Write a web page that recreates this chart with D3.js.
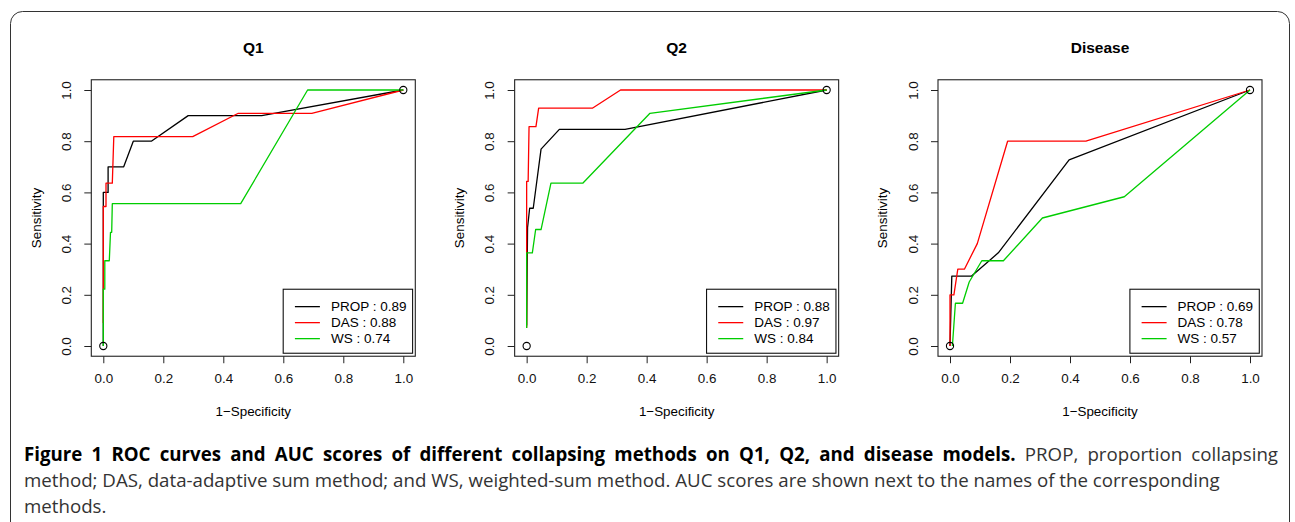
<!DOCTYPE html>
<html>
<head>
<meta charset="utf-8">
<script src="https://cdn.jsdelivr.net/npm/d3@7"></script>
<style>
  body { margin: 0; background: #fff; }
  #wrap { position: relative; width: 1295px; height: 522px; overflow: hidden; }
  svg { position: absolute; left: 0; top: 0; }
  .cap { position: absolute; left: 24px; width: 1254px; font-family: "Open Sans", sans-serif; font-size: 18.7px; color: #333; white-space: nowrap; }
  .cap.just { text-align: justify; text-align-last: justify; }
  .cap b { color: #000; }
</style>
</head>
<body>
<div id="wrap">
  <svg id="chart" width="1295" height="522"></svg>
</div>
<script>
  // panels, methods and AUC scores
  const panels = ["Q1", "Q2", "Disease"];
  const methods = ["PROP", "DAS", "WS"];
  const colors = ["#000000", "#ff0000", "#00cd00"];
  const aucQ1 = [0.89, 0.88, 0.74];
  const aucQ2 = [0.88, 0.97, 0.84];
  const aucDisease = [0.69, 0.78, 0.57];

  // ROC curves as [1-specificity, sensitivity]
  const q1Prop = [[0,0],[0,0.6],[0.016,0.6],[0.016,0.7],[0.068,0.7],[0.1,0.8],[0.16,0.8],[0.283,0.9],[0.528,0.9],[1,1]];
  const q1Das = [[0,0.09],[0,0.545],[0.009,0.545],[0.009,0.636],[0.03,0.636],[0.035,0.818],[0.298,0.818],[0.45,0.909],[0.695,0.909],[1,1]];
  const q1Ws = [[0,0],[0,0.222],[0.005,0.222],[0.005,0.333],[0.02,0.333],[0.024,0.444],[0.028,0.444],[0.03,0.556],[0.458,0.556],[0.681,1],[1,1]];

  const q2Prop = [[0,0.08],[0.003,0.462],[0.01,0.538],[0.022,0.538],[0.048,0.769],[0.109,0.846],[0.328,0.846],[1,1]];
  const q2Das = [[0,0.071],[0,0.643],[0.005,0.643],[0.008,0.857],[0.031,0.857],[0.04,0.929],[0.219,0.929],[0.313,1],[1,1]];
  const q2Ws = [[0,0.07],[0,0.364],[0.019,0.364],[0.03,0.455],[0.048,0.455],[0.081,0.636],[0.187,0.636],[0.411,0.909],[1,1]];

  const dProp = [[0,0],[0.006,0.273],[0.072,0.273],[0.161,0.364],[0.397,0.727],[1,1]];
  const dDas = [[0,0],[0,0.2],[0.013,0.2],[0.026,0.3],[0.048,0.3],[0.091,0.4],[0.192,0.8],[0.453,0.8],[1,1]];
  const dWs = [[0.008,0],[0.018,0.167],[0.042,0.167],[0.064,0.25],[0.106,0.333],[0.178,0.333],[0.308,0.5],[0.581,0.583],[1,1]];

  // end points marked with open circles
  const markers = [[0,0],[1,1]];

  const ticks = [0, 0.2, 0.4, 0.6, 0.8, 1.0];

  const curves = [[q1Prop, q1Das, q1Ws], [q2Prop, q2Das, q2Ws], [dProp, dDas, dWs]];
  const aucs = [aucQ1, aucQ2, aucDisease];

  const captionLines = [
    ["Figure 1 ROC curves and AUC scores of different collapsing methods on Q1, Q2, and disease models.", " PROP, proportion collapsing"],
    ["", "method; DAS, data-adaptive sum method; and WS, weighted-sum method. AUC scores are shown next to the names of the corresponding"],
    ["", "methods."]
  ];

  const svg = d3.select("#chart");
  const font = "'Liberation Sans', Arial, sans-serif";

  // outer frame
  svg.append("rect")
    .attr("x", 10.5).attr("y", 11.5)
    .attr("width", 1279).attr("height", 540)
    .attr("rx", 12).attr("ry", 12)
    .attr("fill", "none")
    .attr("stroke", "#333")
    .attr("stroke-width", 1);

  const panelStep = 423.35;
  const plotW = 300, plotH = 256;

  panels.forEach((name, i) => {
    const x0 = 103.3 + i * panelStep;
    const y0 = 90;
    const x = d3.scaleLinear().domain([-0.04, 1.04]).range([x0 - 0.04 * plotW, x0 + 1.04 * plotW]);
    const y = d3.scaleLinear().domain([-0.04, 1.04]).range([y0 + 1.04 * plotH, y0 - 0.04 * plotH]);

    const g = svg.append("g");

    // x axis
    const xAxis = d3.axisBottom(x).tickValues(ticks).tickFormat(d3.format(".1f")).tickSize(7).tickPadding(10);
    const gx = g.append("g")
      .attr("transform", `translate(0,${y(-0.04)})`)
      .call(xAxis);
    gx.select(".domain").remove();
    gx.selectAll("line").attr("stroke", "#222");
    gx.selectAll("text").attr("font-family", font).attr("font-size", "13.4px").attr("fill", "#111");

    // y axis, labels parallel to the axis
    const yAxis = d3.axisLeft(y).tickValues(ticks).tickFormat(d3.format(".1f")).tickSize(7).tickPadding(0);
    const gy = g.append("g")
      .attr("transform", `translate(${x(-0.04)},0)`)
      .call(yAxis);
    gy.select(".domain").remove();
    gy.selectAll("line").attr("stroke", "#222");
    gy.selectAll("text")
      .attr("font-family", font).attr("font-size", "13.4px").attr("fill", "#111")
      .attr("x", null).attr("dy", null)
      .attr("text-anchor", "middle")
      .attr("transform", "translate(-25,0) rotate(-90)")
      .attr("dy", "0.35em");

    // plot box
    g.append("rect")
      .attr("x", x(-0.04)).attr("y", y(1.04))
      .attr("width", x(1.04) - x(-0.04)).attr("height", y(-0.04) - y(1.04))
      .attr("fill", "none").attr("stroke", "#222").attr("stroke-width", 1.1);

    // title and labels
    g.append("text")
      .attr("x", x(0.5)).attr("y", 52.5)
      .attr("text-anchor", "middle")
      .attr("font-family", font).attr("font-size", "15.5px").attr("font-weight", "bold")
      .text(name);

    g.append("text")
      .attr("x", x(0.5)).attr("y", y(-0.04) + 60)
      .attr("text-anchor", "middle")
      .attr("font-family", font).attr("font-size", "13.4px")
      .text("1\u2212Specificity");

    g.append("text")
      .attr("transform", `translate(${x(-0.04) - 55.5},${y(0.5)}) rotate(-90)`)
      .attr("text-anchor", "middle")
      .attr("dy", "0.35em")
      .attr("font-family", font).attr("font-size", "13.4px")
      .text("Sensitivity");

    // curves
    const line = d3.line().x(d => x(d[0])).y(d => y(d[1]));
    curves[i].forEach((pts, k) => {
      g.append("path")
        .attr("d", line(pts))
        .attr("fill", "none")
        .attr("stroke", colors[k])
        .attr("stroke-width", 1.3)
        .attr("stroke-linejoin", "round");
    });

    g.selectAll(".pt")
      .data(markers)
      .enter()
      .append("circle")
      .attr("cx", d => x(d[0])).attr("cy", d => y(d[1]))
      .attr("r", 3.6)
      .attr("fill", "none").attr("stroke", "#000").attr("stroke-width", 1.1);

    // legend
    const lx = x(1.04) - 2.7 - 129.4;
    const ly = y(-0.04) - 3 - 64;
    const lg = g.append("g").attr("transform", `translate(${lx},${ly})`);
    lg.append("rect")
      .attr("width", 129.4).attr("height", 64)
      .attr("fill", "#fff").attr("stroke", "#111").attr("stroke-width", 1.1);
    methods.forEach((m, k) => {
      const ry = 17.4 + k * 16;
      lg.append("line")
        .attr("x1", 11.7).attr("x2", 36.7)
        .attr("y1", ry).attr("y2", ry)
        .attr("stroke", colors[k]).attr("stroke-width", 1.3);
      lg.append("text")
        .attr("x", 47.7).attr("y", ry)
        .attr("dy", "0.35em")
        .attr("font-family", font).attr("font-size", "13.5px")
        .text(`${m} : ${aucs[i][k].toFixed(2)}`);
    });
  });

  // caption
  const wrap = d3.select("#wrap");
  captionLines.forEach((parts, j) => {
    const div = wrap.append("div")
      .attr("class", j === 0 ? "cap just" : "cap")
      .style("top", `${441 + j * 26}px`);
    if (parts[0]) div.append("b").text(parts[0]);
    div.append("span").text(parts[1]);
  });
</script>
</body>
</html>
